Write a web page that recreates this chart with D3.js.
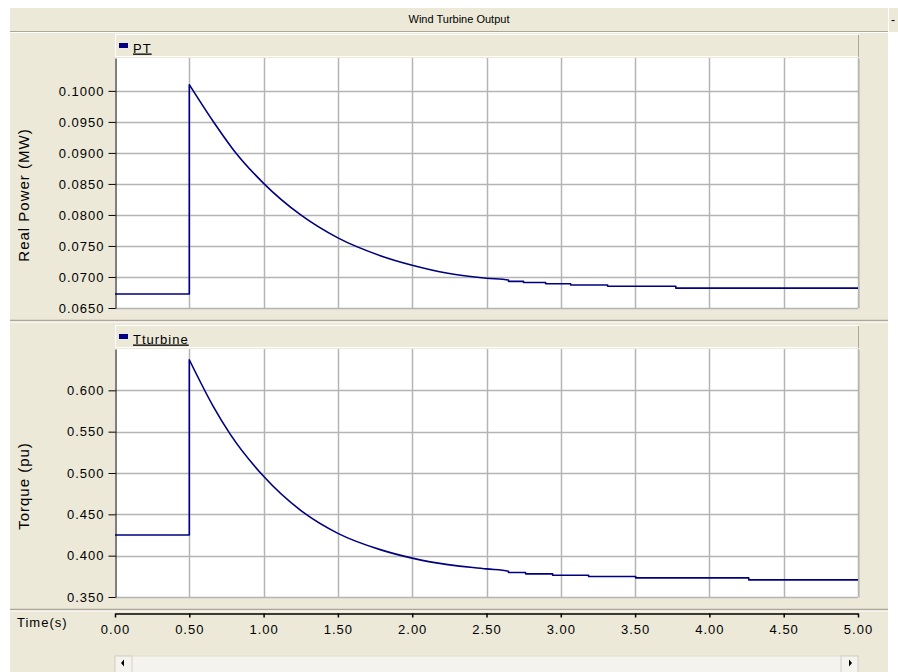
<!DOCTYPE html>
<html>
<head>
<meta charset="utf-8">
<script src="https://cdn.jsdelivr.net/npm/d3@7"></script>
<style>
  body { margin: 0; background: #ffffff; }
  svg { display: block; font-family: "Liberation Sans", Arial, sans-serif; }
</style>
</head>
<body>
<div id="graphArea"></div>
<script>
// data
var ptTime = [0, 0.5, 0.5, 0.66, 0.8, 1.0, 1.25, 1.5, 1.79, 2.0, 2.24, 2.5, 2.648, 2.648, 2.749, 2.749, 2.898, 2.898, 3.066, 3.066, 3.315, 3.315, 3.774, 3.774, 5.0]
var ptValue = [0.06726, 0.06726, 0.1010, 0.0951, 0.0904, 0.0851, 0.0800, 0.0763, 0.0734, 0.0719, 0.0706, 0.0698, 0.0695, 0.0693, 0.0693, 0.0691, 0.0691, 0.0689, 0.0689, 0.0687, 0.0687, 0.0685, 0.0685, 0.0682, 0.0682]

var tqTime = [0, 0.5, 0.5, 0.66, 0.775, 1.0, 1.27, 1.5, 1.79, 2.0, 2.12, 2.5, 2.648, 2.648, 2.763, 2.763, 2.945, 2.945, 3.187, 3.187, 3.504, 3.504, 4.265, 4.265, 5.0]
var tqValue = [0.425, 0.425, 0.637, 0.581, 0.547, 0.496, 0.452, 0.427, 0.407, 0.397, 0.3925, 0.384, 0.3812, 0.3796, 0.3796, 0.3780, 0.3780, 0.3764, 0.3764, 0.3748, 0.3748, 0.3731, 0.3731, 0.3707, 0.3707]

var timeTicks = [0, 0.5, 1.0, 1.5, 2.0, 2.5, 3.0, 3.5, 4.0, 4.5, 5.0]
var ptTicks = [0.065, 0.070, 0.075, 0.080, 0.085, 0.090, 0.095, 0.100]
var tqTicks = [0.35, 0.40, 0.45, 0.50, 0.55, 0.60]

var beige = "#ece9d8"
var gridColor = "#b4b4b4"
var lineColor = "#000080"
var font = '"Liberation Sans", Arial, sans-serif'

var svg = d3.select("#graphArea")
  .append("svg")
  .attr("width", 898)
  .attr("height", 672)

// window background
svg.append("rect").attr("x", 10).attr("y", 8).attr("width", 878).attr("height", 664).attr("fill", beige)

// title bar
svg.append("line").attr("x1", 10).attr("x2", 888).attr("y1", 31.5).attr("y2", 31.5).attr("stroke", "#aca899")
svg.append("line").attr("x1", 10).attr("x2", 888).attr("y1", 32.5).attr("y2", 32.5).attr("stroke", "#ffffff")
svg.append("text")
  .attr("x", 459).attr("y", 23)
  .attr("text-anchor", "middle")
  .style("font-size", "11px")
  .text("Wind Turbine Output")
svg.append("rect").attr("x", 888).attr("y", 8).attr("width", 10).attr("height", 24).attr("fill", beige)
svg.append("line").attr("x1", 888.5).attr("x2", 888.5).attr("y1", 8).attr("y2", 32).attr("stroke", "#ffffff")
svg.append("text").attr("x", 891).attr("y", 24).style("font-size", "12px").text("-")

var left = 115
var right = 858

var x = d3.scaleLinear().domain([0, 5]).range([left, right])

function panel(opts)
{
  var y = d3.scaleLinear().domain(opts.domain).range([opts.bottom, opts.top])

  // legend bar
  svg.append("rect")
    .attr("x", left + 0.5).attr("y", opts.top - 23.5)
    .attr("width", right - left).attr("height", 22)
    .attr("fill", beige).attr("stroke", "#ffffff")
  svg.append("line")
    .attr("x1", right + 0.5).attr("x2", right + 0.5)
    .attr("y1", opts.top - 23).attr("y2", opts.top - 1)
    .attr("stroke", "#aca899")
  svg.append("rect")
    .attr("x", left + 4).attr("y", opts.top - 15)
    .attr("width", 9).attr("height", 5)
    .attr("fill", lineColor)
  svg.append("text")
    .attr("x", left + 18).attr("y", opts.top - 5.5)
    .style("font-size", "13px")
    .style("letter-spacing", "1px")
    .style("text-decoration", "underline")
    .text(opts.name)

  // plot area
  svg.append("rect")
    .attr("x", left).attr("y", opts.top)
    .attr("width", right - left).attr("height", opts.bottom - opts.top)
    .attr("fill", "#ffffff")
  svg.append("line")
    .attr("x1", right + 1.5).attr("x2", right + 1.5)
    .attr("y1", opts.top + 2).attr("y2", opts.bottom + 1)
    .attr("stroke", "#d4d0c0")

  var g = svg.append("g")
  g.selectAll(".vgrid")
    .data(timeTicks.slice(1))
    .enter()
    .append("line")
      .attr("x1", function(d) { return Math.round(x(d)) + 0.5 })
      .attr("x2", function(d) { return Math.round(x(d)) + 0.5 })
      .attr("y1", opts.top)
      .attr("y2", opts.bottom)
      .attr("stroke", gridColor)
      .attr("stroke-width", 1.5)
  g.selectAll(".hgrid")
    .data(opts.ticks)
    .enter()
    .append("line")
      .attr("x1", left)
      .attr("x2", right)
      .attr("y1", function(d) { return Math.round(y(d)) + 0.5 })
      .attr("y2", function(d) { return Math.round(y(d)) + 0.5 })
      .attr("stroke", gridColor)
      .attr("stroke-width", 1.5)

  // the curve: straight up to the jump, smooth decay after it
  var pts = opts.time.map(function(t, i) { return [t, opts.value[i]] })
  var before = pts.slice(0, 3)
  var after = pts.slice(2)
  var straight = d3.line()
    .x(function(d) { return x(d[0]) })
    .y(function(d) { return y(d[1]) })
  var smooth = d3.line()
    .curve(d3.curveMonotoneX)
    .x(function(d) { return x(d[0]) })
    .y(function(d) { return y(d[1]) })
  svg.append("path")
    .attr("fill", "none")
    .attr("stroke", lineColor)
    .attr("stroke-width", 1.6)
    .attr("stroke-linejoin", "round")
    .attr("d", straight(before) + smooth(after).replace(/^M[^A-Za-z]*/, function(m) { return "L" + m.slice(1) }))

  // y axis
  var axis = svg.append("g")
    .attr("transform", "translate(" + (left + 0.5) + ",0)")
    .call(d3.axisLeft(y)
      .tickValues(opts.ticks)
      .tickSize(7)
      .tickSizeOuter(0)
      .tickPadding(4)
      .tickFormat(d3.format(opts.format)))
  axis.select(".domain").attr("stroke", "#000000")
  axis.selectAll("text")
    .style("font-family", font)
    .style("font-size", "13px")
    .style("letter-spacing", "1px")
    .attr("fill", "#000000")

  svg.append("text")
    .attr("transform", "translate(" + 29 + "," + opts.labelY + ") rotate(-90)")
    .attr("text-anchor", "middle")
    .style("font-size", "15px")
    .style("letter-spacing", "1px")
    .text(opts.label)

  // separator under the panel
  svg.append("line").attr("x1", 10).attr("x2", 888)
    .attr("y1", opts.bottom + 12.5).attr("y2", opts.bottom + 12.5)
    .attr("stroke", "#aca899").attr("stroke-width", 1.5)
  svg.append("line").attr("x1", 10).attr("x2", 888)
    .attr("y1", opts.bottom + 14).attr("y2", opts.bottom + 14)
    .attr("stroke", "#ffffff")
}

panel({
  name: "PT",
  time: ptTime,
  value: ptValue,
  domain: [0.065, 0.1053],
  ticks: ptTicks,
  format: ".4f",
  top: 58,
  bottom: 308,
  label: "Real Power (MW)",
  labelY: 195
})

panel({
  name: "Tturbine",
  time: tqTime,
  value: tqValue,
  domain: [0.35, 0.65],
  ticks: tqTicks,
  format: ".3f",
  top: 349,
  bottom: 597,
  label: "Torque (pu)",
  labelY: 486
})

// time axis
var xAxis = svg.append("g")
  .attr("transform", "translate(0," + 613.5 + ")")
  .call(d3.axisBottom(x)
    .tickValues(timeTicks)
    .tickSize(4)
    .tickSizeOuter(0)
    .tickPadding(7)
    .tickFormat(d3.format(".2f")))
xAxis.select(".domain").attr("stroke", "#000000").attr("stroke-width", 1.5)
xAxis.selectAll("line").attr("stroke", "#000000").attr("stroke-width", 1.5)
xAxis.selectAll("text")
  .style("font-family", font)
  .style("font-size", "13px")
  .style("letter-spacing", "1px")
  .attr("fill", "#000000")

svg.append("text")
  .attr("x", 17).attr("y", 627)
  .style("font-size", "13px")
  .style("letter-spacing", "1px")
  .text("Time(s)")

// scroll bar
svg.append("rect").attr("x", left).attr("y", 656).attr("width", right - left).attr("height", 18)
  .attr("fill", "#f4f3ee").attr("stroke", "#e0ddd0")
svg.append("rect").attr("x", left).attr("y", 656).attr("width", 17).attr("height", 18)
  .attr("fill", "#f4f3ee").attr("stroke", "#d4d0c8")
svg.append("rect").attr("x", right - 17).attr("y", 656).attr("width", 17).attr("height", 18)
  .attr("fill", "#f4f3ee").attr("stroke", "#d4d0c8")
svg.append("path").attr("d", "M" + (left + 6) + ",663 l3,-3.5 v7 z").attr("fill", "#000000")
svg.append("path").attr("d", "M" + (right - 6) + ",663 l-3,-3.5 v7 z").attr("fill", "#000000")
</script>
</body>
</html>
